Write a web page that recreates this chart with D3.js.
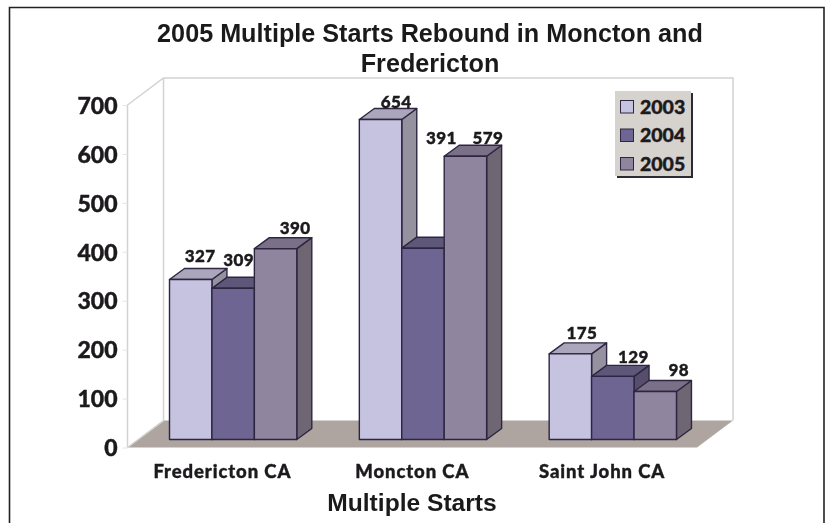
<!DOCTYPE html>
<html><head><meta charset="utf-8">
<script src="https://cdn.jsdelivr.net/npm/d3@7"></script>
<style>
html,body{margin:0;padding:0;background:#fff}
svg{display:block;filter:blur(0.4px)}
.cond{font-family:Lato,sans-serif;font-weight:900;fill:#1c1a1c;stroke:#1c1a1c;stroke-width:0.4px}
.head{font-family:"Liberation Sans",Arial,sans-serif;font-weight:700;fill:#1a1a1a}
</style></head><body>
<svg id="c" width="826" height="523"></svg>
<script>
const categories = ["Fredericton CA","Moncton CA","Saint John CA"];
const seriesNames = ["2003","2004","2005"];
const values2003 = [327,654,175];
const values2004 = [309,391,129];
const values2005 = [390,579,98];
const yTicks = [0,100,200,300,400,500,600,700];
const titleLines = ["2005 Multiple Starts Rebound in Moncton and","Fredericton"];
const xTitle = "Multiple Starts";

const seriesValues = [values2003,values2004,values2005];
const frontColors = ["#c5c3e0","#6e6593","#8f859f"];
const topColors   = ["#aca6bc","#5f5779","#7a7188"];
const sideColors  = ["#96919f","#574e6e","#6f6673"];
// hand placement of the value labels, as the original chart has them [dx, dy]
const labelNudge = [[[2,-7],[-2,-11],[12,-4],],[[8,-1],[11,-93],[15,-1]],[[4,-4],[13,-2.5],[16,-4.5]]];

const svg = d3.select("#c");
const y = d3.scaleLinear().domain([0,700]).range([447.5,105]);
const x = d3.scaleBand().domain(categories).range([127.5,697]);
const inner = d3.scaleBand().domain(d3.range(3)).range([42,169.3]);
const wall = {dx:36,dy:-27}, bar = {ox:0,oy:-8,dx:15,dy:-11};
const line = d3.line();

// frame
svg.append("path").attr("d","M9.5,530V7.5H824V530").attr("fill","none").attr("stroke","#222").attr("stroke-width",1.6);

// floor and walls
const x0=x.range()[0], x1=x.range()[1], y0=y(0), yT=y(700);
svg.append("path").attr("d",line([[x0,y0],[x0+wall.dx,y0+wall.dy],[x1+wall.dx,y0+wall.dy],[x1,y0]])+"Z").attr("fill","#aea5a0");
svg.append("path").attr("d",line([[x0,y0],[x0,yT],[x0+wall.dx,yT+wall.dy],[x1+wall.dx,yT+wall.dy],[x1+wall.dx,y0+wall.dy]]))
  .attr("fill","none").attr("stroke","#d2d2d2").attr("stroke-width",1.5);
svg.append("path").attr("d",line([[x0+wall.dx,yT+wall.dy],[x0+wall.dx,y0+wall.dy],[x0,y0]]))
  .attr("fill","none").attr("stroke","#d2d2d2").attr("stroke-width",1.5);

// axes
const ax = svg.append("g").attr("transform",`translate(${x0},0)`).call(d3.axisLeft(y).tickValues(yTicks).tickSize(5).tickPadding(5));
ax.select(".domain").remove();
ax.selectAll("line").attr("stroke","#e4e4e4");
ax.selectAll("text").attr("class","cond").attr("font-family",null).style("font-size","23px").attr("dy","0.36em");
const bx = svg.append("g").attr("transform",`translate(0,${y0})`).call(d3.axisBottom(x).tickSize(0).tickPadding(17));
bx.select(".domain").remove();
bx.selectAll("text").attr("class","cond").attr("font-family",null).style("font-size","18.5px").style("letter-spacing","0.9px");

// bars
const S="#2e2640";
categories.forEach((c,ci)=>{
  seriesValues.forEach((vals,si)=>{
    const l=x(c)+inner(si)+bar.ox, r=l+inner.bandwidth(), t=y(vals[ci])+bar.oy, b=y(0)+bar.oy;
    const g=svg.append("g").attr("stroke",S).attr("stroke-width",1.4).attr("stroke-linejoin","round");
    g.append("path").attr("fill",sideColors[si]).attr("d",line([[r,t],[r+bar.dx,t+bar.dy],[r+bar.dx,b+bar.dy],[r,b]])+"Z");
    g.append("path").attr("fill",topColors[si]).attr("d",line([[l,t],[l+bar.dx,t+bar.dy],[r+bar.dx,t+bar.dy],[r,t]])+"Z");
    g.append("path").attr("fill",frontColors[si]).attr("d",line([[l,t],[r,t],[r,b],[l,b]])+"Z");
  });
});
categories.forEach((c,ci)=>{
  seriesValues.forEach((vals,si)=>{
    const n=labelNudge[ci][si];
    svg.append("text").attr("class","cond").attr("text-anchor","middle").style("font-size","17px").style("letter-spacing","0.4px")
      .attr("x",x(c)+inner(si)+inner.bandwidth()/2+bar.dx/2+n[0])
      .attr("y",y(vals[ci])+bar.oy+bar.dy+n[1]).text(vals[ci]);
  });
});

// titles
titleLines.forEach((t,i)=>svg.append("text").attr("class","head").attr("text-anchor","middle").style("font-size","25.2px").attr("x",430).attr("y",42+i*30).text(t));
svg.append("text").attr("class","head").attr("text-anchor","middle").style("font-size","24.6px").attr("x",412).attr("y",511).text(xTitle);

// legend
const lg=svg.append("g").attr("transform","translate(615,91)");
lg.append("rect").attr("x",2).attr("y",2).attr("width",76).attr("height",85).attr("fill","#2e2a33");
lg.append("rect").attr("width",76).attr("height",85).attr("fill","#d6d2ce");
seriesNames.forEach((s,i)=>{
  lg.append("rect").attr("x",5.5).attr("y",9.5+i*28.5).attr("width",13).attr("height",12.5).attr("fill",frontColors[i]).attr("stroke",S).attr("stroke-width",1);
  lg.append("text").attr("class","cond").style("font-size","19.5px").attr("x",25).attr("y",22.5+i*28.5).text(s);
});
</script></body></html>
